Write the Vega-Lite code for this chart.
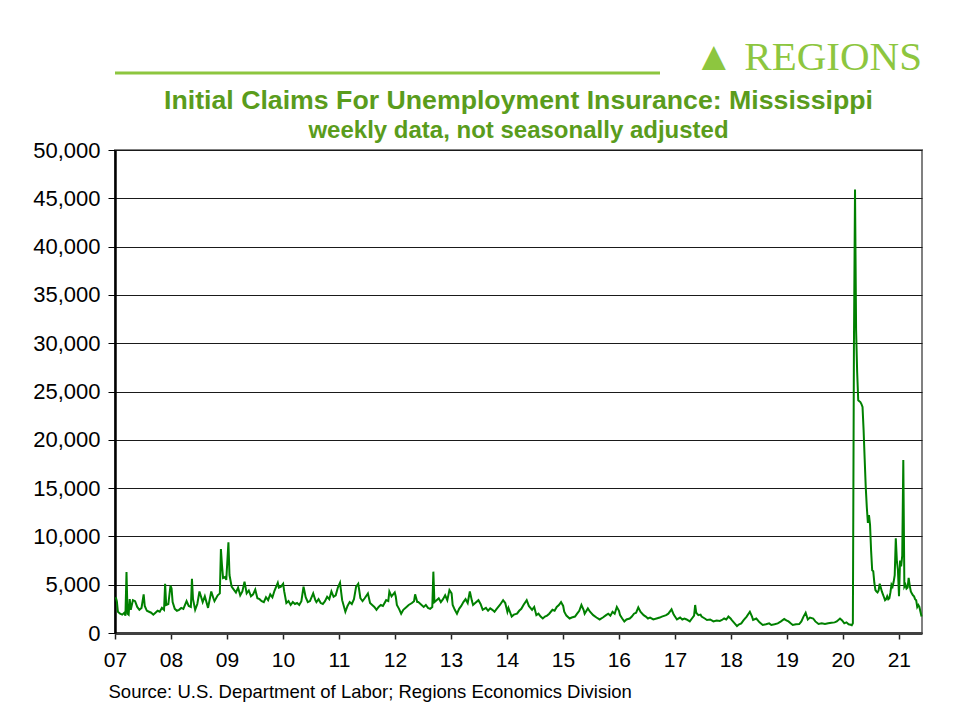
{
  "$schema": "https://vega.github.io/schema/vega-lite/v6.json",
  "padding": {"left": 31, "top": 36, "right": 38, "bottom": 20},
  "background": "white",
  "bounds": "flush",
  "spacing": 76,
  "datasets": {
    "claims": [
      {"date": "2007-01-06", "claims": 3700}, {"date": "2007-01-13", "claims": 3300}, {"date": "2007-01-20", "claims": 2200},
      {"date": "2007-02-03", "claims": 2000}, {"date": "2007-02-17", "claims": 1900}, {"date": "2007-03-03", "claims": 2100},
      {"date": "2007-03-10", "claims": 1800}, {"date": "2007-03-17", "claims": 6300}, {"date": "2007-03-24", "claims": 2000},
      {"date": "2007-03-31", "claims": 1900}, {"date": "2007-04-07", "claims": 3500}, {"date": "2007-04-14", "claims": 2400},
      {"date": "2007-04-28", "claims": 3400}, {"date": "2007-05-12", "claims": 3300}, {"date": "2007-05-26", "claims": 2700},
      {"date": "2007-06-09", "claims": 2400}, {"date": "2007-06-23", "claims": 2600}, {"date": "2007-07-07", "claims": 4000},
      {"date": "2007-07-14", "claims": 2800}, {"date": "2007-07-28", "claims": 2300}, {"date": "2007-08-11", "claims": 2200},
      {"date": "2007-08-25", "claims": 2100}, {"date": "2007-09-08", "claims": 1900}, {"date": "2007-09-22", "claims": 2100},
      {"date": "2007-10-06", "claims": 2300}, {"date": "2007-10-20", "claims": 2200}, {"date": "2007-11-03", "claims": 2600},
      {"date": "2007-11-17", "claims": 2400}, {"date": "2007-11-24", "claims": 5100}, {"date": "2007-12-01", "claims": 2900},
      {"date": "2007-12-15", "claims": 3000}, {"date": "2007-12-29", "claims": 4900},
      {"date": "2008-01-05", "claims": 4600}, {"date": "2008-01-12", "claims": 3200}, {"date": "2008-01-26", "claims": 2500},
      {"date": "2008-02-09", "claims": 2300}, {"date": "2008-02-23", "claims": 2400}, {"date": "2008-03-08", "claims": 2600},
      {"date": "2008-03-22", "claims": 2500}, {"date": "2008-04-12", "claims": 3300}, {"date": "2008-04-26", "claims": 2800},
      {"date": "2008-05-10", "claims": 2700}, {"date": "2008-05-17", "claims": 5600}, {"date": "2008-05-24", "claims": 3500},
      {"date": "2008-06-07", "claims": 2400}, {"date": "2008-06-21", "claims": 3000}, {"date": "2008-07-05", "claims": 4300},
      {"date": "2008-07-26", "claims": 3200}, {"date": "2008-08-09", "claims": 3800}, {"date": "2008-08-30", "claims": 2600},
      {"date": "2008-09-20", "claims": 4300}, {"date": "2008-10-04", "claims": 3600}, {"date": "2008-10-11", "claims": 3300},
      {"date": "2008-11-01", "claims": 3900}, {"date": "2008-11-15", "claims": 4100}, {"date": "2008-11-22", "claims": 8700},
      {"date": "2008-11-29", "claims": 7000}, {"date": "2008-12-06", "claims": 5700}, {"date": "2008-12-20", "claims": 5800},
      {"date": "2008-12-27", "claims": 5500},
      {"date": "2009-01-10", "claims": 9400}, {"date": "2009-01-17", "claims": 6000}, {"date": "2009-01-31", "claims": 4800},
      {"date": "2009-02-14", "claims": 4500}, {"date": "2009-02-28", "claims": 4200}, {"date": "2009-03-14", "claims": 4700},
      {"date": "2009-03-28", "claims": 3900}, {"date": "2009-04-11", "claims": 4300}, {"date": "2009-04-25", "claims": 5300},
      {"date": "2009-05-09", "claims": 4100}, {"date": "2009-05-23", "claims": 4400}, {"date": "2009-06-06", "claims": 3800},
      {"date": "2009-06-20", "claims": 4000}, {"date": "2009-07-04", "claims": 4500}, {"date": "2009-07-18", "claims": 3600},
      {"date": "2009-08-01", "claims": 3500}, {"date": "2009-08-15", "claims": 3300}, {"date": "2009-08-29", "claims": 3200},
      {"date": "2009-09-12", "claims": 3700}, {"date": "2009-09-26", "claims": 3400}, {"date": "2009-10-10", "claims": 4000},
      {"date": "2009-10-24", "claims": 3700}, {"date": "2009-11-07", "claims": 4400}, {"date": "2009-11-28", "claims": 5200},
      {"date": "2009-12-05", "claims": 4700}, {"date": "2009-12-19", "claims": 4800},
      {"date": "2010-01-02", "claims": 5100}, {"date": "2010-01-09", "claims": 4300}, {"date": "2010-01-23", "claims": 3100},
      {"date": "2010-02-06", "claims": 3300}, {"date": "2010-02-20", "claims": 2900}, {"date": "2010-03-06", "claims": 3200},
      {"date": "2010-03-20", "claims": 3000}, {"date": "2010-04-03", "claims": 3100}, {"date": "2010-04-17", "claims": 2900},
      {"date": "2010-05-01", "claims": 3300}, {"date": "2010-05-15", "claims": 4800}, {"date": "2010-05-29", "claims": 3700},
      {"date": "2010-06-12", "claims": 3200}, {"date": "2010-06-26", "claims": 3300}, {"date": "2010-07-17", "claims": 4100},
      {"date": "2010-07-31", "claims": 3400}, {"date": "2010-08-07", "claims": 3200}, {"date": "2010-08-21", "claims": 3500},
      {"date": "2010-09-04", "claims": 3100}, {"date": "2010-09-18", "claims": 3000}, {"date": "2010-10-02", "claims": 3300},
      {"date": "2010-10-16", "claims": 3750}, {"date": "2010-10-30", "claims": 3500}, {"date": "2010-11-13", "claims": 4300},
      {"date": "2010-11-27", "claims": 3750}, {"date": "2010-12-11", "claims": 3900}, {"date": "2010-12-25", "claims": 4700},
      {"date": "2011-01-08", "claims": 5200}, {"date": "2011-01-22", "claims": 3400}, {"date": "2011-02-12", "claims": 2200},
      {"date": "2011-02-26", "claims": 2800}, {"date": "2011-03-12", "claims": 3200}, {"date": "2011-03-26", "claims": 3000},
      {"date": "2011-04-09", "claims": 3500}, {"date": "2011-04-23", "claims": 4800}, {"date": "2011-05-07", "claims": 5100},
      {"date": "2011-05-21", "claims": 3600}, {"date": "2011-06-04", "claims": 3300}, {"date": "2011-06-18", "claims": 3600},
      {"date": "2011-07-09", "claims": 4100}, {"date": "2011-07-23", "claims": 3100}, {"date": "2011-08-06", "claims": 2900},
      {"date": "2011-08-20", "claims": 2700}, {"date": "2011-09-03", "claims": 2400}, {"date": "2011-09-17", "claims": 2700},
      {"date": "2011-10-01", "claims": 2900}, {"date": "2011-10-15", "claims": 2800}, {"date": "2011-11-05", "claims": 3400},
      {"date": "2011-11-19", "claims": 3300}, {"date": "2011-11-26", "claims": 4300}, {"date": "2011-12-10", "claims": 3800},
      {"date": "2011-12-31", "claims": 4200},
      {"date": "2012-01-07", "claims": 3750}, {"date": "2012-01-14", "claims": 2900}, {"date": "2012-01-28", "claims": 2500},
      {"date": "2012-02-11", "claims": 2000}, {"date": "2012-02-25", "claims": 2400}, {"date": "2012-03-17", "claims": 2700},
      {"date": "2012-03-31", "claims": 2900}, {"date": "2012-04-21", "claims": 3100}, {"date": "2012-05-05", "claims": 3300},
      {"date": "2012-05-12", "claims": 4000}, {"date": "2012-05-26", "claims": 3200}, {"date": "2012-06-02", "claims": 3200},
      {"date": "2012-06-16", "claims": 3000}, {"date": "2012-07-07", "claims": 2700}, {"date": "2012-07-21", "claims": 2900},
      {"date": "2012-08-04", "claims": 2600}, {"date": "2012-08-18", "claims": 2500}, {"date": "2012-09-01", "claims": 2700},
      {"date": "2012-09-08", "claims": 6350}, {"date": "2012-09-15", "claims": 3200}, {"date": "2012-09-29", "claims": 3400},
      {"date": "2012-10-13", "claims": 3600}, {"date": "2012-10-27", "claims": 3200}, {"date": "2012-11-10", "claims": 3500},
      {"date": "2012-11-24", "claims": 3900}, {"date": "2012-12-08", "claims": 3400}, {"date": "2012-12-22", "claims": 4450},
      {"date": "2013-01-05", "claims": 4100}, {"date": "2013-01-12", "claims": 2900}, {"date": "2013-01-26", "claims": 2400},
      {"date": "2013-02-09", "claims": 2000}, {"date": "2013-02-23", "claims": 2500}, {"date": "2013-03-09", "claims": 2800},
      {"date": "2013-03-23", "claims": 3200}, {"date": "2013-04-06", "claims": 3500}, {"date": "2013-04-20", "claims": 3100},
      {"date": "2013-05-04", "claims": 4300}, {"date": "2013-05-18", "claims": 3300}, {"date": "2013-05-25", "claims": 2900},
      {"date": "2013-06-08", "claims": 3100}, {"date": "2013-06-29", "claims": 3400}, {"date": "2013-07-13", "claims": 3000},
      {"date": "2013-07-27", "claims": 2400}, {"date": "2013-08-17", "claims": 2600}, {"date": "2013-08-31", "claims": 2300},
      {"date": "2013-09-14", "claims": 2550}, {"date": "2013-09-28", "claims": 2400}, {"date": "2013-10-12", "claims": 2200},
      {"date": "2013-10-26", "claims": 2500}, {"date": "2013-11-16", "claims": 2900}, {"date": "2013-12-07", "claims": 3400},
      {"date": "2013-12-21", "claims": 3100},
      {"date": "2014-01-04", "claims": 2200}, {"date": "2014-01-11", "claims": 2600}, {"date": "2014-02-01", "claims": 1700},
      {"date": "2014-02-15", "claims": 1900}, {"date": "2014-03-08", "claims": 2000}, {"date": "2014-03-22", "claims": 2300},
      {"date": "2014-04-05", "claims": 2500}, {"date": "2014-04-19", "claims": 2900}, {"date": "2014-05-10", "claims": 3400},
      {"date": "2014-05-24", "claims": 2800}, {"date": "2014-06-14", "claims": 2400}, {"date": "2014-06-28", "claims": 2700},
      {"date": "2014-07-12", "claims": 1850}, {"date": "2014-07-26", "claims": 2000}, {"date": "2014-08-09", "claims": 1700},
      {"date": "2014-08-23", "claims": 1500}, {"date": "2014-09-06", "claims": 1700}, {"date": "2014-09-20", "claims": 1800},
      {"date": "2014-10-04", "claims": 2000}, {"date": "2014-10-25", "claims": 2400}, {"date": "2014-11-08", "claims": 2300},
      {"date": "2014-11-22", "claims": 2700}, {"date": "2014-12-06", "claims": 2900}, {"date": "2014-12-20", "claims": 3200},
      {"date": "2015-01-03", "claims": 2800}, {"date": "2015-01-10", "claims": 2200}, {"date": "2015-01-24", "claims": 1800},
      {"date": "2015-02-14", "claims": 1500}, {"date": "2015-02-28", "claims": 1600}, {"date": "2015-03-21", "claims": 1700},
      {"date": "2015-04-04", "claims": 2000}, {"date": "2015-04-18", "claims": 2300}, {"date": "2015-05-02", "claims": 2900},
      {"date": "2015-05-16", "claims": 2400}, {"date": "2015-05-23", "claims": 2000}, {"date": "2015-06-13", "claims": 2550},
      {"date": "2015-06-27", "claims": 2200}, {"date": "2015-07-18", "claims": 1850}, {"date": "2015-08-08", "claims": 1600},
      {"date": "2015-08-29", "claims": 1400}, {"date": "2015-09-19", "claims": 1600}, {"date": "2015-10-10", "claims": 1850},
      {"date": "2015-10-24", "claims": 2000}, {"date": "2015-11-07", "claims": 1800}, {"date": "2015-11-21", "claims": 2200},
      {"date": "2015-12-05", "claims": 2000}, {"date": "2015-12-19", "claims": 2700},
      {"date": "2016-01-02", "claims": 2300}, {"date": "2016-01-09", "claims": 1850}, {"date": "2016-01-23", "claims": 1500},
      {"date": "2016-02-06", "claims": 1200}, {"date": "2016-02-20", "claims": 1400}, {"date": "2016-03-12", "claims": 1500},
      {"date": "2016-03-26", "claims": 1700}, {"date": "2016-04-09", "claims": 2000}, {"date": "2016-04-23", "claims": 2100},
      {"date": "2016-05-07", "claims": 2650}, {"date": "2016-05-21", "claims": 2200}, {"date": "2016-06-11", "claims": 1850},
      {"date": "2016-06-25", "claims": 1700}, {"date": "2016-07-09", "claims": 1500}, {"date": "2016-07-23", "claims": 1600},
      {"date": "2016-08-13", "claims": 1400}, {"date": "2016-09-03", "claims": 1500}, {"date": "2016-09-24", "claims": 1600},
      {"date": "2016-10-08", "claims": 1700}, {"date": "2016-11-05", "claims": 1850}, {"date": "2016-11-19", "claims": 2000},
      {"date": "2016-12-10", "claims": 2450}, {"date": "2016-12-24", "claims": 1900},
      {"date": "2017-01-14", "claims": 1400}, {"date": "2017-02-04", "claims": 1600}, {"date": "2017-02-18", "claims": 1400},
      {"date": "2017-03-04", "claims": 1500}, {"date": "2017-03-18", "claims": 1400}, {"date": "2017-04-08", "claims": 1200},
      {"date": "2017-04-22", "claims": 1500}, {"date": "2017-05-06", "claims": 1800}, {"date": "2017-05-13", "claims": 2900},
      {"date": "2017-05-20", "claims": 2100}, {"date": "2017-06-03", "claims": 1850}, {"date": "2017-06-17", "claims": 1900},
      {"date": "2017-06-24", "claims": 1700}, {"date": "2017-07-15", "claims": 1500}, {"date": "2017-07-29", "claims": 1350},
      {"date": "2017-08-19", "claims": 1400}, {"date": "2017-09-09", "claims": 1200}, {"date": "2017-09-30", "claims": 1300},
      {"date": "2017-10-21", "claims": 1250}, {"date": "2017-11-04", "claims": 1350}, {"date": "2017-11-18", "claims": 1500},
      {"date": "2017-12-02", "claims": 1400}, {"date": "2017-12-16", "claims": 1700}, {"date": "2017-12-30", "claims": 1500},
      {"date": "2018-01-06", "claims": 1350}, {"date": "2018-01-20", "claims": 1100}, {"date": "2018-02-10", "claims": 720},
      {"date": "2018-02-24", "claims": 900}, {"date": "2018-03-10", "claims": 1000}, {"date": "2018-03-24", "claims": 1300},
      {"date": "2018-04-14", "claims": 1700}, {"date": "2018-05-05", "claims": 2200}, {"date": "2018-05-19", "claims": 1700},
      {"date": "2018-05-26", "claims": 1350}, {"date": "2018-06-16", "claims": 1500}, {"date": "2018-07-07", "claims": 1100},
      {"date": "2018-07-28", "claims": 830}, {"date": "2018-08-18", "claims": 900}, {"date": "2018-09-08", "claims": 1000},
      {"date": "2018-09-22", "claims": 830}, {"date": "2018-10-13", "claims": 900}, {"date": "2018-11-03", "claims": 1000},
      {"date": "2018-11-24", "claims": 1200}, {"date": "2018-12-15", "claims": 1450}, {"date": "2018-12-29", "claims": 1300},
      {"date": "2019-01-12", "claims": 1200}, {"date": "2019-01-26", "claims": 1000}, {"date": "2019-02-09", "claims": 830},
      {"date": "2019-03-02", "claims": 900}, {"date": "2019-03-23", "claims": 930}, {"date": "2019-04-06", "claims": 1200},
      {"date": "2019-04-20", "claims": 1700}, {"date": "2019-05-04", "claims": 2100}, {"date": "2019-05-18", "claims": 1400},
      {"date": "2019-06-01", "claims": 1600}, {"date": "2019-06-22", "claims": 1500}, {"date": "2019-07-06", "claims": 1200},
      {"date": "2019-07-27", "claims": 930}, {"date": "2019-08-17", "claims": 1000}, {"date": "2019-09-07", "claims": 930},
      {"date": "2019-09-28", "claims": 1000}, {"date": "2019-10-19", "claims": 1070}, {"date": "2019-11-09", "claims": 1100},
      {"date": "2019-11-23", "claims": 1200}, {"date": "2019-12-14", "claims": 1500}, {"date": "2019-12-28", "claims": 1300},
      {"date": "2020-01-11", "claims": 1000}, {"date": "2020-01-25", "claims": 1100}, {"date": "2020-02-08", "claims": 900},
      {"date": "2020-02-22", "claims": 850}, {"date": "2020-02-29", "claims": 800}, {"date": "2020-03-07", "claims": 1000},
      {"date": "2020-03-14", "claims": 30000}, {"date": "2020-03-21", "claims": 45900}, {"date": "2020-03-28", "claims": 31400},
      {"date": "2020-04-04", "claims": 27000}, {"date": "2020-04-11", "claims": 24100}, {"date": "2020-04-18", "claims": 24000},
      {"date": "2020-04-25", "claims": 23900}, {"date": "2020-05-02", "claims": 23700}, {"date": "2020-05-09", "claims": 23400},
      {"date": "2020-05-16", "claims": 21000}, {"date": "2020-05-23", "claims": 18000}, {"date": "2020-05-30", "claims": 15100},
      {"date": "2020-06-06", "claims": 13000}, {"date": "2020-06-13", "claims": 11400}, {"date": "2020-06-20", "claims": 12200},
      {"date": "2020-06-27", "claims": 11200}, {"date": "2020-07-04", "claims": 8500}, {"date": "2020-07-11", "claims": 6500},
      {"date": "2020-07-18", "claims": 6400}, {"date": "2020-07-25", "claims": 5200}, {"date": "2020-08-01", "claims": 4450},
      {"date": "2020-08-08", "claims": 4300}, {"date": "2020-08-15", "claims": 4200}, {"date": "2020-08-22", "claims": 4400},
      {"date": "2020-08-29", "claims": 5100}, {"date": "2020-09-05", "claims": 4700}, {"date": "2020-09-12", "claims": 4300},
      {"date": "2020-09-19", "claims": 4000}, {"date": "2020-09-26", "claims": 3700}, {"date": "2020-10-03", "claims": 3400},
      {"date": "2020-10-10", "claims": 3500}, {"date": "2020-10-17", "claims": 3800}, {"date": "2020-10-24", "claims": 3500},
      {"date": "2020-10-31", "claims": 3600}, {"date": "2020-11-07", "claims": 4200}, {"date": "2020-11-14", "claims": 5000},
      {"date": "2020-11-21", "claims": 4800}, {"date": "2020-11-28", "claims": 5300}, {"date": "2020-12-05", "claims": 6000},
      {"date": "2020-12-12", "claims": 9800}, {"date": "2020-12-19", "claims": 7500}, {"date": "2020-12-26", "claims": 6500},
      {"date": "2021-01-02", "claims": 3800}, {"date": "2021-01-09", "claims": 7500}, {"date": "2021-01-16", "claims": 6900},
      {"date": "2021-01-23", "claims": 8000}, {"date": "2021-01-30", "claims": 17900}, {"date": "2021-02-06", "claims": 4800},
      {"date": "2021-02-13", "claims": 5000}, {"date": "2021-02-20", "claims": 4600}, {"date": "2021-02-27", "claims": 4700},
      {"date": "2021-03-06", "claims": 5700}, {"date": "2021-03-13", "claims": 4900}, {"date": "2021-03-20", "claims": 4300},
      {"date": "2021-03-27", "claims": 4100}, {"date": "2021-04-03", "claims": 3900}, {"date": "2021-04-10", "claims": 3800},
      {"date": "2021-04-17", "claims": 3500}, {"date": "2021-04-24", "claims": 3400}, {"date": "2021-05-01", "claims": 2700},
      {"date": "2021-05-08", "claims": 2900}, {"date": "2021-05-15", "claims": 2700}, {"date": "2021-05-22", "claims": 2200},
      {"date": "2021-05-29", "claims": 1700}
    ]
  },
  "vconcat": [
    {
      "width": 545,
      "height": 1,
      "view": {"stroke": null},
      "title": {
        "text": "▲ REGIONS",
        "anchor": "end",
        "frame": "group",
        "dx": 262,
        "font": "Liberation Serif",
        "fontSize": 41,
        "fontWeight": "normal",
        "color": "#8dc63f",
        "offset": -7
      },
      "data": {"values": [{}]},
      "mark": {"type": "rule", "color": "#8dc63f", "strokeWidth": 3},
      "encoding": {"y": {"datum": 0, "type": "quantitative", "axis": null}}
    },
    {
      "width": 807,
      "height": 483,
      "data": {"name": "claims"},
      "title": {
        "text": "Initial Claims For Unemployment Insurance: Mississippi",
        "subtitle": "weekly data, not seasonally adjusted",
        "anchor": "middle",
        "frame": "group",
        "font": "Liberation Sans",
        "fontSize": 26.7,
        "fontWeight": "bold",
        "color": "#5a9c1c",
        "subtitleFont": "Liberation Sans",
        "subtitleFontSize": 24,
        "subtitleFontWeight": "bold",
        "subtitleColor": "#5a9c1c",
        "subtitlePadding": 4,
        "offset": -4
      },
      "mark": {"type": "line", "color": "#008000", "strokeWidth": 2},
      "encoding": {
        "x": {
          "field": "date",
          "type": "temporal",
          "scale": {
            "type": "utc",
            "domain": [
              {"year": 2007, "month": 1, "date": 1, "utc": true},
              {"year": 2021, "month": 6, "date": 1, "utc": true}
            ]
          },
          "axis": {
            "labelExpr": "substring('' + utcyear(datum.value), 2, 4)",
            "tickCount": "year",
            "grid": false,
            "labelFlush": false,
            "labelFont": "Liberation Sans",
            "labelFontSize": 21,
            "labelColor": "black",
            "labelPadding": 10,
            "domainColor": "#404040",
            "domainWidth": 3,
            "tickColor": "#202020",
            "tickSize": 6,
            "tickWidth": 1.5,
            "title": "Source: U.S. Department of Labor; Regions Economics Division",
            "titleFont": "Liberation Sans",
            "titleFontSize": 18.5,
            "titleFontWeight": "normal",
            "titleColor": "black",
            "titleAnchor": "start",
            "titleAlign": "left",
            "titleBaseline": "alphabetic",
            "titleX": -7,
            "titleY": 64
          }
        },
        "y": {
          "field": "claims",
          "type": "quantitative",
          "scale": {"domain": [0, 50000], "nice": false},
          "axis": {
            "values": [0, 5000, 10000, 15000, 20000, 25000, 30000, 35000, 40000, 45000, 50000],
            "labelExpr": "datum.value == 0 ? '0' : floor(datum.value / 1000) + ',000'",
            "title": null,
            "grid": true,
            "gridColor": "#1a1a1a",
            "gridWidth": 1,
            "labelFont": "Liberation Sans",
            "labelFontSize": 22,
            "labelColor": "black",
            "labelPadding": 8,
            "domainColor": "black",
            "domainWidth": 2.5,
            "tickColor": "black",
            "tickSize": 7,
            "tickWidth": 1
          }
        }
      }
    }
  ],
  "config": {
    "view": {"stroke": "#808080", "strokeWidth": 2}
  }
}
